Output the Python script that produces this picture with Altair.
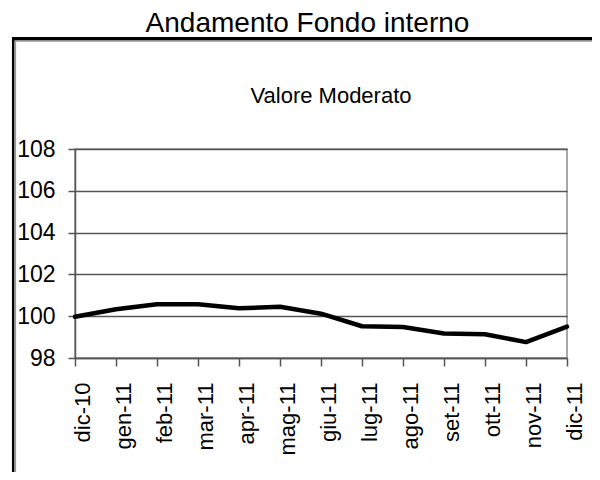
import altair as alt
import pandas as pd

months = ["dic-10", "gen-11", "feb-11", "mar-11", "apr-11", "mag-11", "giu-11",
          "lug-11", "ago-11", "set-11", "ott-11", "nov-11", "dic-11"]
values = [99.97, 100.33, 100.57, 100.57, 100.38, 100.45, 100.12,
          99.52, 99.48, 99.17, 99.14, 98.76, 99.5]
y_ticks = [98, 100, 102, 104, 106, 108]
main_title = "Andamento Fondo interno"
sub_title = "Valore Moderato"

df = pd.DataFrame({"mese": months, "valore": values})

W, H = 492, 209

x_enc = alt.X("mese:N", sort=months, title=None,
              scale=alt.Scale(type="point", padding=0),
              axis=alt.Axis(labelAngle=270, labelAlign="right", labelBaseline="top",
                            labelOffset=-3, labelFont="Liberation Sans", labelFontSize=22,
                            labelColor="#000", labelPadding=16, tickSize=8,
                            tickColor="#555", tickWidth=1.5, domainColor="#555",
                            domainWidth=1.5, grid=False))
y_enc = alt.Y("valore:Q", title=None,
              scale=alt.Scale(domain=[98, 108], nice=False, zero=False),
              axis=alt.Axis(values=y_ticks, labelFont="Liberation Sans", labelFontSize=23,
                            labelColor="#000", labelPadding=13, tickSize=7,
                            tickColor="#555", tickWidth=1.5, domainColor="#555",
                            domainWidth=1.5, grid=True, gridColor="#555", gridWidth=1.5))

line = alt.Chart(df).mark_line(color="#000", strokeWidth=4.5, strokeJoin="round",
                               strokeCap="round").encode(x=x_enc, y=y_enc)

one = pd.DataFrame({"t": [main_title], "s": [sub_title]})

title_mark = alt.Chart(one).mark_text(font="Liberation Sans", fontSize=28, color="#000",
                                      align="center", baseline="alphabetic").encode(
    text="t:N", x=alt.value(232.5), y=alt.value(-117))
sub_mark = alt.Chart(one).mark_text(font="Liberation Sans", fontSize=22, color="#000",
                                    align="center", baseline="alphabetic").encode(
    text="s:N", x=alt.value(256), y=alt.value(-46))

top_black = alt.Chart(one).mark_rule(color="#000", strokeWidth=3.5).encode(
    x=alt.value(-63), x2=alt.value(520), y=alt.value(-110.2))
left_black = alt.Chart(one).mark_rule(color="#000", strokeWidth=2.5).encode(
    x=alt.value(-61.8), y=alt.value(-112), y2=alt.value(330))
top_grey = alt.Chart(one).mark_rule(color="#999", strokeWidth=1.2).encode(
    x=alt.value(-60), x2=alt.value(520), y=alt.value(-107.8))
left_grey = alt.Chart(one).mark_rule(color="#999", strokeWidth=1.2).encode(
    x=alt.value(-59.5), y=alt.value(-108), y2=alt.value(330))

chart = alt.layer(top_black, left_black, top_grey, left_grey, title_mark, sub_mark, line).properties(
    width=W, height=H,
    autosize=alt.AutoSizeParams(type="none"),
    padding={"left": 67, "top": 141, "right": 25, "bottom": 114},
    background="#fff",
).configure_view(stroke="#8c8c8c", strokeWidth=1.5)

chart.save("out.html", embed_options={"renderer": "svg", "actions": False})
